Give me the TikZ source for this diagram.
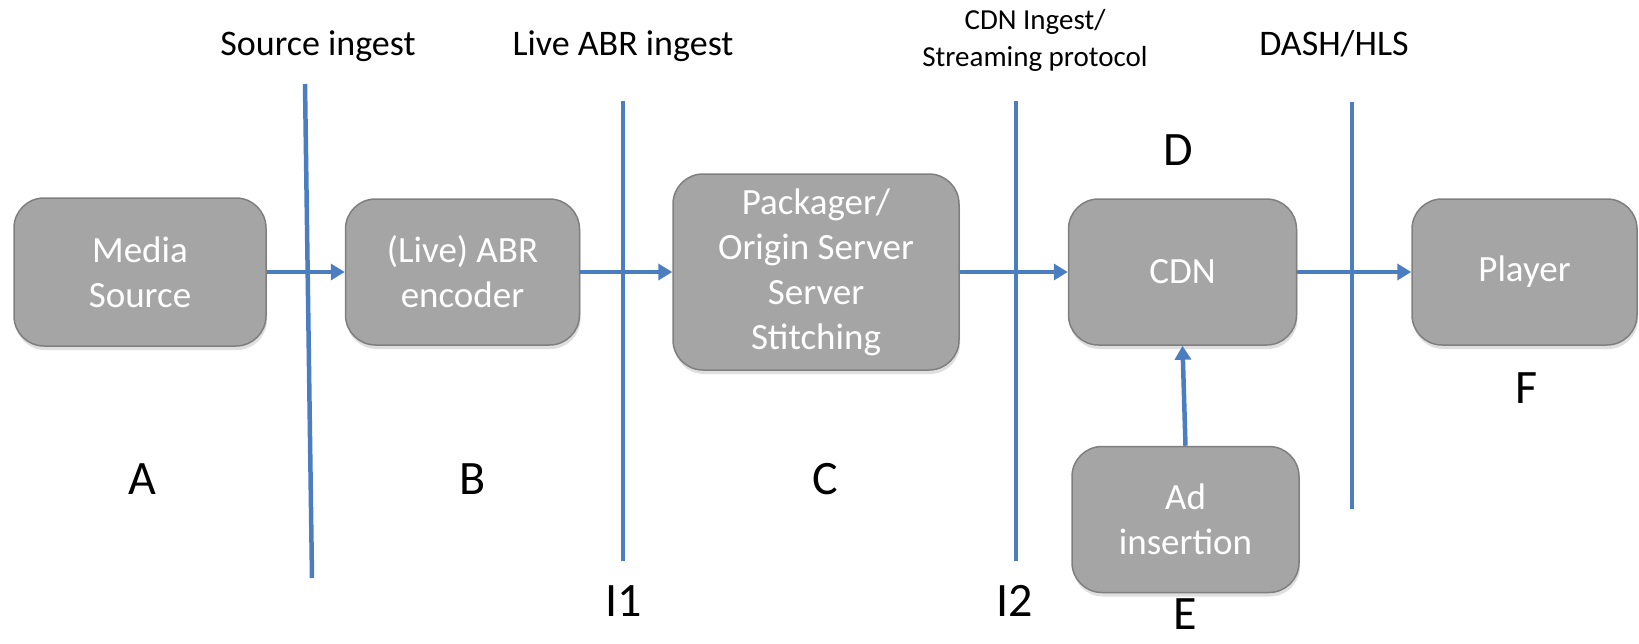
\documentclass[tikz,border=0pt]{standalone}
\usepackage{fontspec}
\setmainfont{Carlito}
\usepackage{tikz}
\usetikzlibrary{positioning,arrows.meta,shadows}

\definecolor{boxgray}{HTML}{A5A5A5}
\definecolor{boxedge}{HTML}{7F7F7F}
\definecolor{lineblue}{HTML}{4A7EC1}

\begin{document}
\begin{tikzpicture}[
    x=1pt, y=-1pt,
    stagebox/.style={rectangle, rounded corners=30pt, draw=boxedge, line width=1.5pt, fill=boxgray,
        text=white, align=center, minimum width=230pt, minimum height=146pt,
        font=\fontsize{37}{45}\selectfont,
        drop shadow={opacity=0.25, shadow xshift=1pt, shadow yshift=-4pt}},
    flow/.style={-{Triangle[length=14pt,width=16pt]}, draw=lineblue, line width=4.5pt},
    sepline/.style={draw=lineblue, line width=4.5pt},
    toplabel/.style={anchor=base, font=\fontsize{36}{44}\selectfont},
    letter/.style={inner sep=0pt, font=\fontsize{48}{56}\selectfont}
    ]
        \useasboundingbox (0,0) rectangle (1639,643);

        %Nodes
        \node[stagebox, minimum width=252pt, minimum height=148pt]
            (src)   at (140,272)        {Media\\Source};
        \node[stagebox, minimum width=234pt]
            (enc)   [right=78pt of src] {(Live) ABR\\encoder};
        \node[stagebox, minimum width=286pt, minimum height=196pt]
            (pkg)   [right=92pt of enc] {Packager/\\Origin Server\\Server\\Stitching};
        \node[stagebox, minimum width=228pt]
            (cdn)   [right=108pt of pkg] {CDN};
        \node[stagebox, minimum width=225pt]
            (ply)   [right=114pt of cdn] {Player};
        \node[stagebox, minimum width=227pt, xshift=3pt]
            (ads)   [below=100pt of cdn] {Ad\\insertion};

        %Separators
        \coordinate (s1t) at (305,84);
        \coordinate (s1b) at (312,578);
        \coordinate (s2t) at (623,101);
        \coordinate (s2b) at (623,561);
        \coordinate (s3t) at (1016,101);
        \coordinate (s3b) at (1016,561);
        \coordinate (s4t) at (1352,102);
        \coordinate (s4b) at (1352,509);
        \draw[sepline] (s1t) -- (s1b);
        \draw[sepline] (s2t) -- (s2b);
        \draw[sepline] (s3t) -- (s3b);
        \draw[sepline] (s4t) -- (s4b);

        %Lines
        \draw[flow] (src) -- (enc);
        \draw[flow] (enc) -- (pkg);
        \draw[flow] (pkg) -- (cdn);
        \draw[flow] (cdn) -- (ply);
        \draw[flow] (ads.north) -- (cdn.south);

        %Labels
        \node[toplabel] (lsrc) at (318,55)  {Source ingest};
        \node[toplabel] (labr) at (623,55)  {Live ABR ingest};
        \node[align=center, font=\fontsize{29}{37}\selectfont]
            (lcdn) at (1035,40) {CDN Ingest/\\Streaming protocol};
        \node[toplabel] (ldash) at (1334,55) {DASH/HLS};

        \node[letter] (la)  at (142,479)  {A};
        \node[letter] (lb)  at (473,479)  {B};
        \node[letter] (lc)  at (825,479)  {C};
        \node[letter] (ld)  at (1178,150) {D};
        \node[letter] (le)  at (1185,614) {E};
        \node[letter] (lf)  at (1527,388) {F};
        \node[letter] (li1) at (624,601)  {I1};
        \node[letter] (li2) at (1015,601) {I2};
    \end{tikzpicture}
\end{document}
